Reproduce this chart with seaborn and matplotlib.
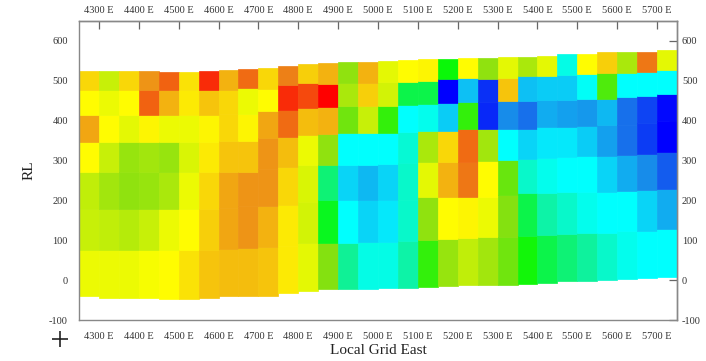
import numpy as np
import matplotlib
matplotlib.use("Agg")
import matplotlib.pyplot as plt
from matplotlib.lines import Line2D
import seaborn as sns

# block column centres (Local Grid East), 50 m wide blocks
east = [4275, 4325, 4375, 4425, 4475, 4525, 4575, 4625, 4675, 4725,
        4775, 4825, 4875, 4925, 4975, 5025, 5075, 5125, 5175, 5225,
        5275, 5325, 5375, 5425, 5475, 5525, 5575, 5625, 5675, 5725]

# RL boundaries of the blocks in each column (bottom -> top)
rl_bounds = [
    [-40, 75, 178, 271, 347, 415, 476, 525],
    [-44, 75, 178, 271, 347, 415, 476, 524],
    [-44, 75, 178, 271, 347, 415, 476, 524],
    [-44, 75, 178, 271, 347, 415, 476, 524],
    [-47, 75, 178, 271, 347, 415, 476, 523],
    [-47, 75, 178, 271, 347, 415, 476, 522],
    [-44, 75, 178, 271, 347, 415, 476, 525],
    [-41, 77, 180, 271, 349, 417, 478, 526],
    [-41, 80, 185, 271, 350, 417, 483, 529],
    [-40, 82, 185, 280, 357, 424, 480, 532],
    [-32, 86, 189, 285, 358, 426, 489, 538],
    [-27, 92, 197, 290, 365, 432, 495, 543],
    [-23, 94, 200, 290, 367, 434, 493, 545],
    [-23, 94, 200, 290, 369, 436, 495, 548],
    [-23, 95, 200, 290, 369, 436, 495, 548],
    [-19, 96, 201, 292, 370, 437, 496, 550],
    [-19, 98, 201, 293, 371, 439, 497, 551],
    [-17, 101, 208, 296, 373, 442, 499, 554],
    [-15, 102, 208, 296, 375, 445, 504, 555],
    [-13, 105, 208, 296, 378, 447, 506, 556],
    [-13, 107, 208, 300, 380, 447, 504, 556],
    [-11, 107, 214, 302, 380, 449, 508, 559],
    [-9, 111, 218, 305, 380, 449, 512, 560],
    [-6, 113, 218, 306, 383, 453, 512, 563],
    [-3, 116, 220, 310, 384, 453, 514, 567],
    [-2, 117, 220, 312, 386, 455, 516, 567],
    [1, 119, 222, 312, 388, 455, 519, 571],
    [3, 122, 224, 315, 390, 460, 519, 573],
    [5, 124, 225, 317, 395, 462, 522, 573],
    [7, 128, 228, 321, 399, 466, 526, 577],
]

# block values (0 = blue ... 100 = red), bottom -> top
grade = [
    [73, 69, 68, 75, 84, 75, 79],
    [73, 68, 65, 69, 75, 73, 69],
    [73, 67, 63, 64, 72, 75, 79],
    [74, 69, 64, 65, 76, 91, 86],
    [75, 73, 66, 64, 73, 83, 91],
    [78, 75, 73, 71, 73, 77, 78],
    [81, 80, 79, 77, 76, 81, 96],
    [82, 84, 84, 81, 79, 79, 83],
    [82, 86, 86, 81, 76, 73, 90],
    [81, 83, 86, 86, 84, 75, 79],
    [77, 77, 79, 82, 90, 96, 88],
    [72, 70, 71, 73, 82, 93, 80],
    [62, 48, 40, 63, 83, 100, 83],
    [37, 25, 21, 25, 60, 66, 63],
    [28, 21, 18, 25, 69, 80, 83],
    [28, 23, 21, 25, 54, 70, 72],
    [35, 31, 31, 30, 25, 44, 75],
    [54, 63, 72, 66, 27, 44, 76],
    [64, 75, 83, 79, 20, 0, 50],
    [68, 76, 89, 90, 54, 19, 75],
    [65, 73, 75, 65, 4, 5, 63],
    [60, 62, 59, 25, 14, 81, 72],
    [51, 44, 31, 21, 11, 19, 66],
    [44, 35, 27, 23, 17, 20, 72],
    [40, 31, 25, 23, 16, 20, 28],
    [36, 27, 25, 20, 15, 26, 75],
    [31, 25, 21, 16, 18, 57, 80],
    [27, 25, 17, 11, 11, 25, 66],
    [25, 21, 14, 6, 7, 25, 89],
    [25, 17, 9, 0, 1, 25, 72],
]

x_ticks = [4300, 4400, 4500, 4600, 4700, 4800, 4900, 5000,
           5100, 5200, 5300, 5400, 5500, 5600, 5700]
x_labels = ["%d E" % v for v in x_ticks]
y_ticks = [-100, 0, 100, 200, 300, 400, 500, 600]

sns.set_style("white")
plt.rcParams['font.family'] = ['Liberation Serif', 'DejaVu Serif']
plt.rcParams['axes.unicode_minus'] = False

cmap = sns.blend_palette(["#0000ff", "#1a80e8", "#00ffff", "#10f090", "#08f808",
                          "#8ae010", "#ffff00", "#ec8818", "#ff0000"], as_cmap=True)
norm = plt.Normalize(0, 100)

fig = plt.figure(figsize=(7.06, 3.61), dpi=100)
ax = fig.add_axes([79 / 706, 41 / 361, 598 / 706, 299 / 361])

for e, b, g in zip(east, rl_bounds, grade):
    b = np.array(b, dtype=float)
    cols = cmap(norm(np.array(g)))
    ax.bar([e] * len(g), np.diff(b), bottom=b[:-1], width=50,
           color=cols, edgecolor=cols, linewidth=0.5)

ax.set_xlim(4250, 5750)
ax.set_ylim(-100, 650)
ax.set_xticks(x_ticks)
ax.set_xticklabels(x_labels)
ax.set_yticks(y_ticks)

tcol = "#666666"
lcol = "#333333"
ax.tick_params(axis='both', direction='in', length=6, width=0.9, color=tcol,
               labelsize=7.5, labelcolor=lcol)
ax.tick_params(axis='x', top=False, pad=8.5)
ax.tick_params(axis='y', right=False, pad=8)

secx = ax.secondary_xaxis('top')
secx.set_xticks(x_ticks)
secx.set_xticklabels(x_labels)
secx.tick_params(direction='in', length=6, width=0.9, color=tcol,
                 labelsize=7.5, labelcolor=lcol, pad=4.5)

secy = ax.secondary_yaxis('right')
secy.set_yticks(y_ticks)
secy.tick_params(direction='in', length=6, width=0.9, color=tcol,
                 labelsize=7.5, labelcolor=lcol, pad=3.5)

for s in list(ax.spines.values()) + [secx.spines['top'], secy.spines['right']]:
    s.set_color('#888888')
    s.set_linewidth(1.0)

ax.set_xlabel("Local Grid East", fontsize=11, color='#222222', labelpad=2)
ax.set_ylabel("RL", fontsize=11, color='#222222', labelpad=10)

fig.add_artist(Line2D([60 / 706], [1 - 339 / 361], marker='+', markersize=11,
                      markeredgewidth=1.2, color='#222222', transform=fig.transFigure))

fig.savefig("out.png", dpi=100)
